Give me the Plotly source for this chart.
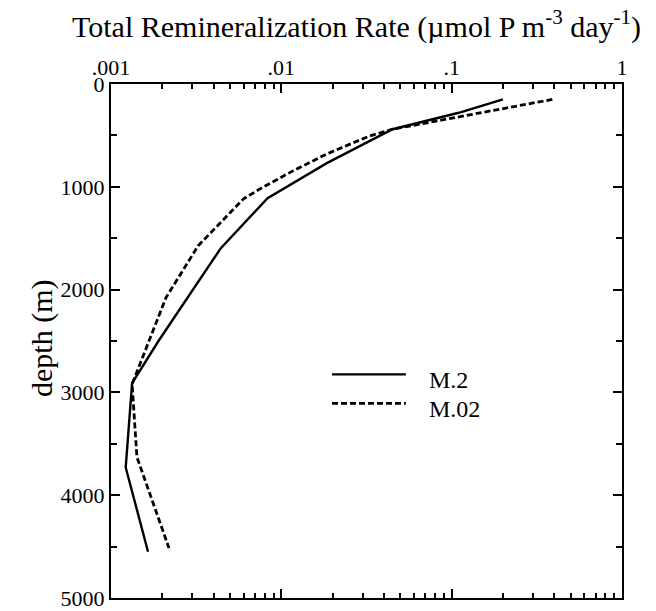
import plotly.graph_objects as go

# Total remineralization rate profiles (umol P m^-3 day^-1) against depth (m)
depth_m2 = [150, 280, 440, 600, 770, 1110, 1600, 2500, 2910, 3730, 4550]
rate_m2 = [0.2, 0.11, 0.045, 0.029, 0.0185, 0.0083, 0.0044, 0.0019, 0.00133, 0.00122, 0.00165]

depth_m02 = [150, 210, 330, 440, 505, 680, 845, 1020, 1117, 1573, 2080, 2590, 2920, 3630, 4515]
rate_m02 = [0.39, 0.25, 0.1, 0.045, 0.033, 0.0185, 0.0117, 0.0075, 0.006, 0.00325, 0.0021, 0.0016, 0.00133, 0.00142, 0.00219]

series_names = ["M.2", "M.02"]

x_tick_vals = [0.001, 0.01, 0.1, 1]
x_tick_text = [".001", ".01", ".1", "1"]
x_minor_vals = [m * d for d in [0.001, 0.01, 0.1] for m in range(2, 10)]

FONT = "Liberation Serif, Times New Roman, serif"
SOLID = dict(color="black", width=2.4)
DASHED = dict(color="black", width=2.8, dash="6px,3px")

fig = go.Figure()
fig.add_trace(go.Scatter(x=rate_m2, y=depth_m2, mode="lines", name=series_names[0], line=SOLID))
fig.add_trace(go.Scatter(x=rate_m02, y=depth_m02, mode="lines", name=series_names[1], line=DASHED))

fig.update_layout(
    width=656, height=611,
    margin=dict(l=111, r=34, t=84, b=13),
    paper_bgcolor="white", plot_bgcolor="white",
    showlegend=False,
    font=dict(family=FONT, color="black", size=22),
    xaxis=dict(
        type="log", range=[-3, 0], side="top", automargin=False,
        tickmode="array", tickvals=x_tick_vals, ticktext=x_tick_text,
        ticks="inside", ticklen=9, tickwidth=2, tickcolor="black",
        minor=dict(tickmode="array", tickvals=x_minor_vals, ticks="inside",
                   ticklen=5, tickwidth=2, tickcolor="black"),
        showline=True, linecolor="black", linewidth=2, mirror="ticks",
        showgrid=False, zeroline=False,
        tickfont=dict(size=22, family=FONT), ticklabelstandoff=-2,
    ),
    yaxis=dict(
        range=[5000, 0], tickmode="linear", tick0=0, dtick=1000, automargin=False,
        ticks="inside", ticklen=9, tickwidth=2, tickcolor="black",
        minor=dict(dtick=500, ticks="inside", ticklen=6, tickwidth=2, tickcolor="black"),
        showline=True, linecolor="black", linewidth=2, mirror="ticks",
        showgrid=False, zeroline=False,
        tickfont=dict(size=22, family=FONT), ticklabelstandoff=0,
    ),
)

# axis titles
fig.add_annotation(
    text="Total Remineralization Rate (\u00b5mol P m<sup>-3</sup> day<sup>-1</sup>)",
    xref="paper", yref="paper", x=0.480, y=1.1165, xanchor="center", yanchor="middle",
    showarrow=False, font=dict(size=30, family=FONT, color="black"))
fig.add_annotation(
    text="depth (m)", textangle=-90,
    xref="paper", yref="paper", x=-0.134, y=0.505, xanchor="center", yanchor="middle",
    showarrow=False, font=dict(size=30, family=FONT, color="black"))

# legend keys
legend_rows = [(0.435, 0.4233, SOLID), (0.3786, 0.367, DASHED)]
for name, (ly, ty, ln) in zip(series_names, legend_rows):
    fig.add_shape(type="line", xref="paper", yref="paper", x0=0.4325, x1=0.577,
                  y0=ly, y1=ly, line=ln)
    fig.add_annotation(text=name, xref="paper", yref="paper", x=0.618, y=ty,
                       xanchor="left", yanchor="middle", showarrow=False,
                       font=dict(size=24, family=FONT, color="black"))

fig.write_html("out.html")
